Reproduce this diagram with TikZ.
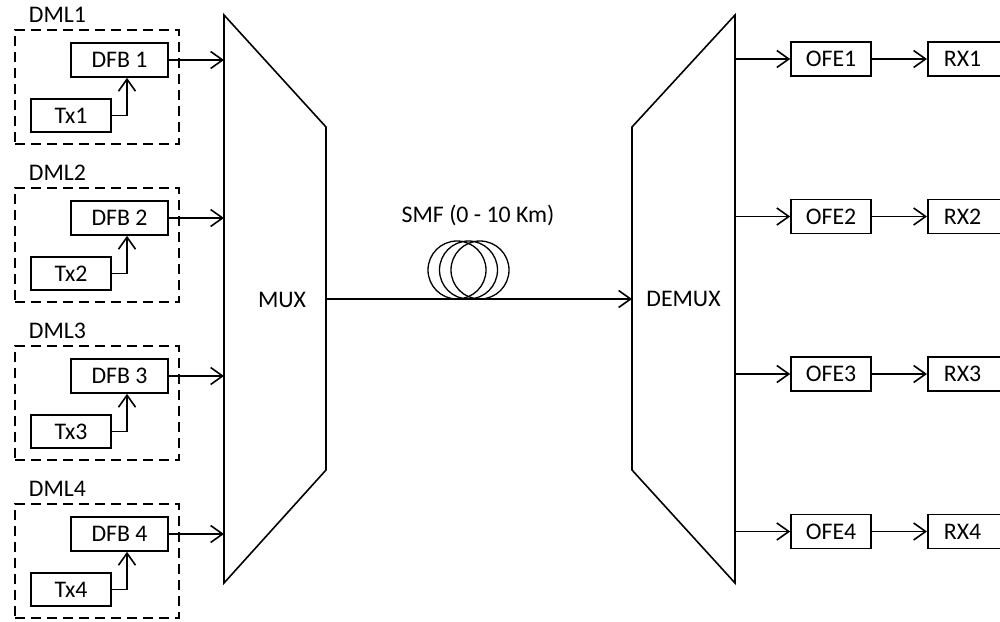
\documentclass[tikz,border=0pt]{standalone}
\usepackage{fontspec}
\setmainfont{Carlito}
\usetikzlibrary{arrows.meta}
\begin{document}
\begin{tikzpicture}[x=1pt,y=-1pt,
  line width=1.6pt,
  every node/.style={font=\fontsize{23.8}{28}\selectfont, inner sep=0pt},
  box/.style={draw, minimum height=34pt},
  dmlbox/.style={draw, dash pattern=on 10pt off 6pt, minimum width=164pt, minimum height=114pt},
  arr/.style={-{Straight Barb[length=12pt,width=17pt]}},
  mux/.style={draw, line join=miter}
]
\useasboundingbox (0,0) rectangle (1000,621);
\clip (0,0) rectangle (1000,621);

% MUX and DEMUX
\draw[mux] (224,15) -- (326,127) -- (326,470) -- (224,583) -- cycle;
\node (mux) at (282,300) {MUX};
\draw[mux] (735,15) -- (632,127) -- (632,470) -- (735,583) -- cycle;
\node (demux) at (683.5,299) {DEMUX};

% transmitters
\foreach \i in {1,2,3,4}{
  \pgfmathsetmacro{\dy}{158*(\i-1)}
  \node[dmlbox] (dml\i) at (97,87+\dy) {};
  \node (dmllab\i) at (57.5,14.5+\dy) {DML\i};
  \node[box, minimum width=97pt] (dfb\i) at (119.5,60+\dy) {DFB \i};
  \node[box, minimum width=80pt, minimum height=33pt] (tx\i) at (71,115.5+\dy) {Tx\i};
  \coordinate (mi\i) at (224,60+\dy);
  \draw[arr] (tx\i.east) -| ([xshift=7.5pt]dfb\i.south);
  \draw[arr] (dfb\i.east) -- (mi\i);
}

% receivers
\foreach \i in {1,2,3,4}{
  \pgfmathsetmacro{\ry}{59+157.5*(\i-1)}
  \coordinate (do\i) at (735,\ry);
  \node[box, minimum width=80pt] (ofe\i) at (831,\ry) {OFE\i};
  \node[box, minimum width=90pt, anchor=west] (rx\i) at (927,\ry) {};
  \node (rxlab\i) at (962.5,\ry) {RX\i};
  \draw[arr] (do\i) -- (ofe\i.west);
  \draw[arr] (ofe\i.east) -- (rx\i.west);
}

% fiber
\coordinate (fin) at (326,299);
\coordinate (fout) at (632,299);
\draw[arr] (fin) -- (fout);
\node[circle, draw, minimum size=58pt, line width=1.3pt] (c1) at (457,270) {};
\node[circle, draw, minimum size=58pt, line width=1.3pt] (c2) at (468.5,270) {};
\node[circle, draw, minimum size=58pt, line width=1.3pt] (c3) at (480,270) {};
\node (smf) at (478,215) {SMF (0 - 10 Km)};
\end{tikzpicture}
\end{document}
